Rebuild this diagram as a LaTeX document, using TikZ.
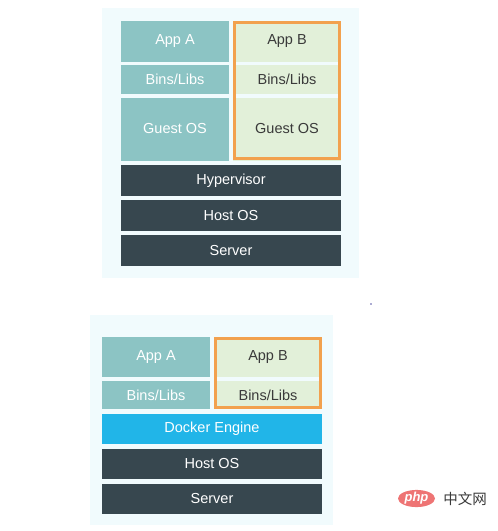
\documentclass[tikz,border=0pt]{standalone}
\usepackage{fontspec}
\setmainfont{Liberation Sans}
\newfontfamily\cjk{Noto Sans CJK SC}
\usetikzlibrary{shapes.geometric}
\definecolor{panelbg}{HTML}{F1FBFD}
\definecolor{tealc}{HTML}{8CC4C4}
\definecolor{greenc}{HTML}{E2F0D9}
\definecolor{orangec}{HTML}{F2A14E}
\definecolor{darkc}{HTML}{37474F}
\definecolor{dockerc}{HTML}{21B5E8}
\definecolor{greytext}{HTML}{3A3A3A}
\definecolor{phpred}{HTML}{EE7474}
\tikzset{
  cell/.style={rectangle, inner sep=0pt, outer sep=0pt, font=\fontsize{14.5}{16}\selectfont},
  vmA/.style={cell, fill=tealc, text=white, minimum width=108pt},
  vmB/.style={cell, fill=greenc, text=greytext, minimum width=108pt},
  layer/.style={cell, fill=darkc, text=white, minimum width=220pt},
  dockerlayer/.style={cell, fill=dockerc, text=white, minimum width=220pt},
  frameB/.style={draw=orangec, line width=3pt},
  panel/.style={fill=panelbg, draw=none}
}
\begin{document}
\begin{tikzpicture}[x=1pt,y=-1pt]
\useasboundingbox (0,0) rectangle (498,531);
\fill[white] (0,0) rectangle (498,531);
% ---------- top panel (VM) ----------
\fill[panel] (102,8) rectangle (359,278);
\node[vmA, minimum height=40.5pt] (appA) at (175,41.25) {App A};
\node[vmA, minimum height=28.5pt] (binsA) at (175,79.25) {Bins/Libs};
\node[vmA, minimum height=63pt] (guestA) at (175,129) {Guest OS};
\node[vmB, minimum height=40.5pt] (appB) at (287,41.25) {App B};
\node[vmB, minimum height=28.5pt] (binsB) at (287,79.25) {Bins/Libs};
\node[vmB, minimum height=63pt] (guestB) at (287,129) {Guest OS};
\draw[frameB] (234.5,22.5) rectangle (339.5,158.5);
\node[layer, minimum height=31pt] (hyper) at (231,180.5) {Hypervisor};
\node[layer, minimum height=31pt] (host1) at (231,215.5) {Host OS};
\node[layer, minimum height=31pt] (server1) at (231,250.5) {Server};
% small dot
\fill[gray!70!blue] (371,304) circle (0.8pt);
% ---------- bottom panel (Docker) ----------
\fill[panel] (90,315) rectangle (333,525);
\node[vmA, minimum height=40pt] (appA2) at (156,357) {App A};
\node[vmA, minimum height=28pt] (binsA2) at (156,395) {Bins/Libs};
\node[vmB, minimum height=40pt] (appB2) at (268,357) {App B};
\node[vmB, minimum height=28pt] (binsB2) at (268,395) {Bins/Libs};
\draw[frameB] (215.5,338.5) rectangle (320.5,407.5);
\node[dockerlayer, minimum height=30pt] (docker) at (212,429) {Docker Engine};
\node[layer, minimum height=30pt] (host2) at (212,464) {Host OS};
\node[layer, minimum height=30pt] (server2) at (212,499) {Server};
% ---------- watermark ----------
\node[ellipse, fill=phpred, minimum width=37pt, minimum height=17pt, inner sep=0pt, text=white, font=\bfseries\itshape\fontsize{13}{13}\selectfont] (php) at (416.5,498.5) {php};
\node[text=greytext, inner sep=0pt, font=\cjk\fontsize{14.5}{14.5}\selectfont] (cn) at (465,498.5) {中文网};
\end{tikzpicture}
\end{document}
